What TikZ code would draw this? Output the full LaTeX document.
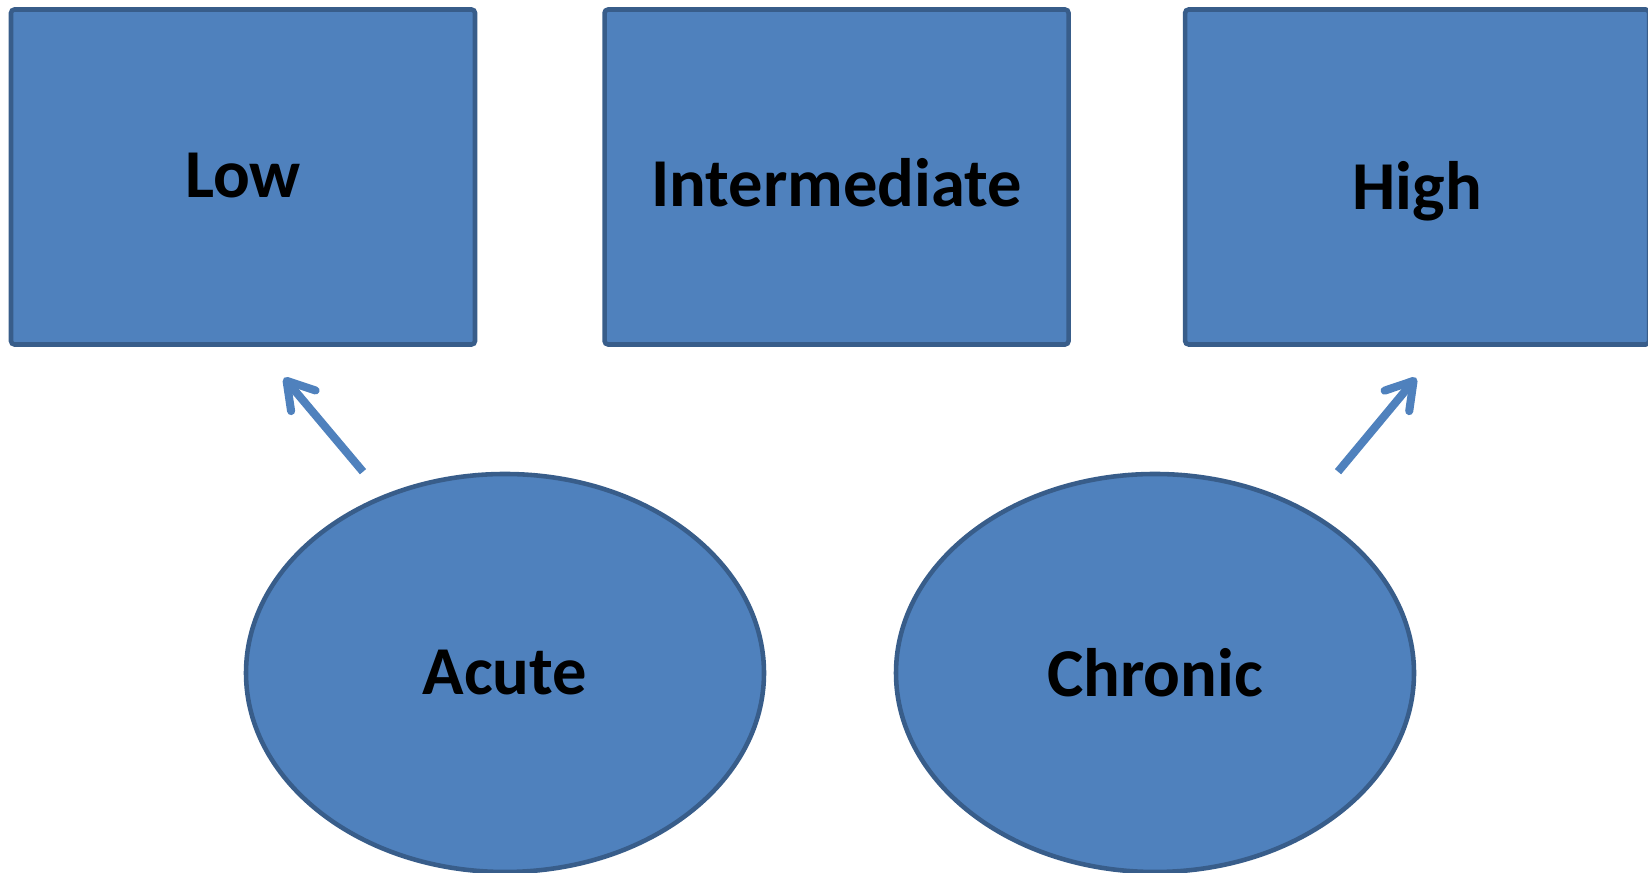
\documentclass[tikz,border=0pt]{standalone}
\usepackage{fontspec}
\setmainfont{Carlito}
\usepackage{tikz}
\usetikzlibrary{arrows.meta,positioning,shapes.geometric}
\definecolor{boxblue}{RGB}{79,129,189}
\definecolor{edgeblue}{RGB}{56,93,138}

\begin{document}
\begin{tikzpicture}[every node/.style={font=\fontsize{19.5}{23}\selectfont\bfseries, align=center},
    levelbox/.style={draw=edgeblue, line width=1.3pt, rounded corners=1pt, fill=boxblue, minimum width=4.64cm, minimum height=3.35cm, inner sep=0pt},
    dropped/.style={text height=#1, text depth=0pt},
    courseoval/.style={ellipse, draw=edgeblue, line width=1.3pt, fill=boxblue, minimum width=5.18cm, minimum height=3.98cm, inner sep=0pt},
    pointer/.style={draw=boxblue, line width=2.3pt, -{Straight Barb[length=2.6mm, width=3.2mm, round]}}]
    \useasboundingbox (0,0) rectangle (16.48,-8.73);
    \node[levelbox, dropped=0.42cm] (low) at (2.43,-1.77) {Low};
    \node[levelbox, dropped=0.6cm, right=1.25cm of low] (inter) {Intermediate};
    \node[levelbox, dropped=0.66cm, right=1.12cm of inter] (high) {High};
    \node[courseoval] (acute) at (5.05,-6.73) {Acute};
    \node[courseoval] (chronic) at (11.55,-6.73) {Chronic};

    \coordinate (acutetail) at ([xshift=-1.42cm]acute.north);
    \coordinate (lowtip) at ([xshift=0.41cm, yshift=-0.31cm]low.south);
    \coordinate (chronictail) at ([xshift=1.83cm]chronic.north);
    \coordinate (hightip) at ([xshift=-0.01cm, yshift=-0.31cm]high.south);

    \draw[pointer] (acutetail) -- (lowtip);
    \draw[pointer] (chronictail) -- (hightip);
\end{tikzpicture}
\end{document}
